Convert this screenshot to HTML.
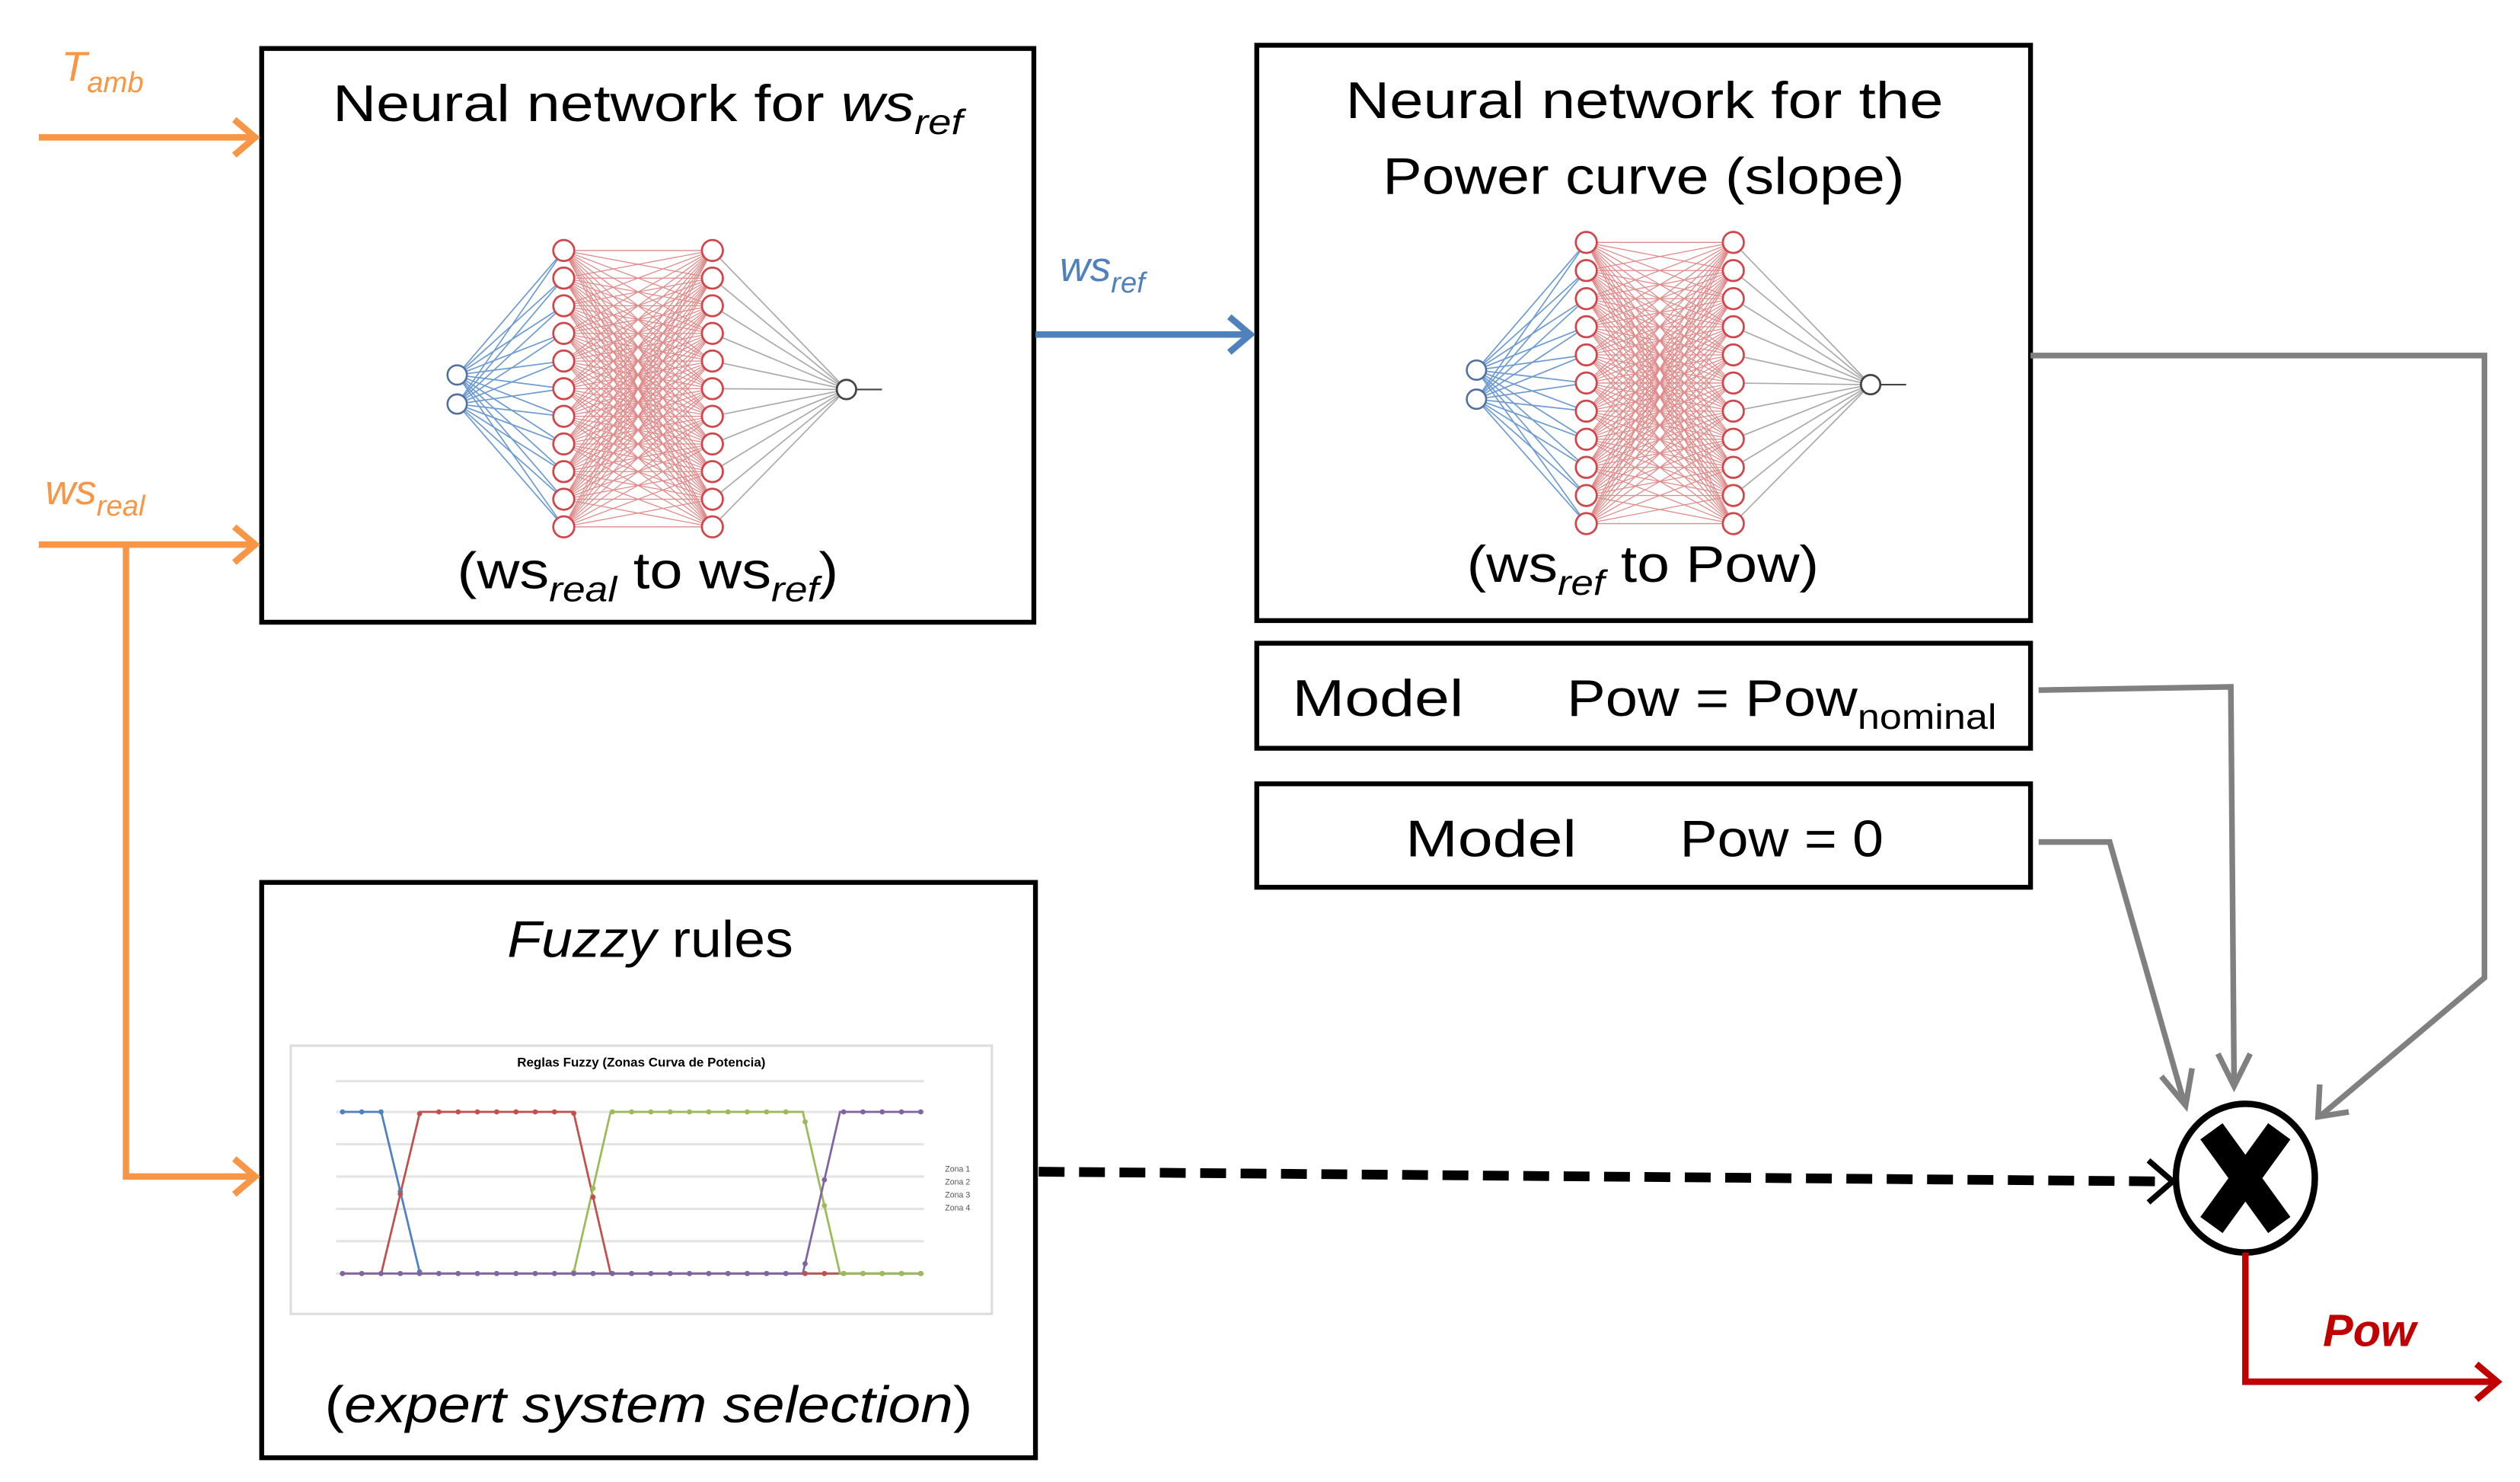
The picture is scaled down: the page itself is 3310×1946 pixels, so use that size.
<!DOCTYPE html>
<html><head><meta charset="utf-8"><style>
html,body{margin:0;padding:0;background:#fff;}
svg{display:block;}
text{font-family:"Liberation Sans",sans-serif;}
</style></head><body>
<svg id="s" width="3310" height="1946" viewBox="0 0 1560 917" preserveAspectRatio="none" xmlns="http://www.w3.org/2000/svg">
<defs>
<marker id="ao" markerWidth="10" markerHeight="10" refX="8" refY="5" orient="auto" markerUnits="userSpaceOnUse"><path d="M1,-3 L9,5 L1,13" fill="none" stroke="#f79646" stroke-width="3"/></marker>
</defs>
<rect width="1560" height="917" fill="#fff"/>
<g id="nn"></g>
<!-- boxes -->
<g fill="none" stroke="#000" stroke-width="3">
<rect x="162" y="30" width="478" height="355"/>
<rect x="778" y="28" width="479" height="356"/>
<rect x="778" y="398" width="479" height="65"/>
<rect x="778" y="485" width="479" height="64"/>
<rect x="162" y="546" width="479" height="356"/>
</g>
<!-- titles -->
<text x="206" y="75" font-size="32" textLength="390" lengthAdjust="spacingAndGlyphs">Neural network for <tspan font-style="italic">ws</tspan><tspan font-style="italic" font-size="22" dy="8">ref</tspan></text>
<text x="283" y="364" font-size="32" textLength="236" lengthAdjust="spacingAndGlyphs">(ws<tspan font-style="italic" font-size="22" dy="8">real</tspan><tspan dy="-8"> to ws</tspan><tspan font-style="italic" font-size="22" dy="8">ref</tspan><tspan dy="-8">)</tspan></text>
<text x="833" y="73" font-size="32" textLength="370" lengthAdjust="spacingAndGlyphs">Neural network for the</text>
<text x="856" y="120" font-size="32" textLength="323" lengthAdjust="spacingAndGlyphs">Power curve (slope)</text>
<text x="908" y="360" font-size="32" textLength="218" lengthAdjust="spacingAndGlyphs">(ws<tspan font-style="italic" font-size="22" dy="8">ref</tspan><tspan dy="-8"> to Pow)</tspan></text>
<text x="800" y="443" font-size="32" textLength="106" lengthAdjust="spacingAndGlyphs">Model</text>
<text x="970" y="443" font-size="32" textLength="266" lengthAdjust="spacingAndGlyphs">Pow = Pow<tspan font-size="22" dy="8">nominal</tspan></text>
<text x="870" y="530" font-size="32" textLength="106" lengthAdjust="spacingAndGlyphs">Model</text>
<text x="1040" y="530" font-size="32" textLength="126" lengthAdjust="spacingAndGlyphs">Pow = 0</text>
<text x="314" y="592" font-size="32" textLength="177" lengthAdjust="spacingAndGlyphs"><tspan font-style="italic">Fuzzy</tspan> rules</text>
<text x="201" y="880" font-size="32" textLength="401" lengthAdjust="spacingAndGlyphs">(<tspan font-style="italic">expert system selection</tspan>)</text>
<!-- chart -->
<g id="chart">
<rect x="180" y="647" width="434" height="166" fill="#fff" stroke="#ddd" stroke-width="1.5"/>
<text x="397" y="660" font-size="8" text-anchor="middle" font-weight="bold">Reglas Fuzzy (Zonas Curva de Potencia)</text>
<g stroke="#e4e4e4" stroke-width="1.5">
<line x1="208" y1="669" x2="572" y2="669"/><line x1="208" y1="688" x2="572" y2="688"/><line x1="208" y1="708" x2="572" y2="708"/><line x1="208" y1="728" x2="572" y2="728"/><line x1="208" y1="748" x2="572" y2="748"/><line x1="208" y1="768" x2="572" y2="768"/><line x1="208" y1="788" x2="572" y2="788"/>
</g>
<g fill="none" stroke-width="1.3">
<polyline points="212,688 236,688 260,788 570,788" stroke="#4f81bd"/>
<polyline points="212,788 236,788 260,688 355,688 378,788 570,788" stroke="#c0504d"/>
<polyline points="212,788 355,788 378,688 497,688 520,788 570,788" stroke="#9bbb59"/>
<polyline points="212,788 497,788 520,688 570,688" stroke="#8064a2"/>
</g>
<g id="dots"></g>
<g font-size="5" fill="#555"><text x="585" y="725">Zona 1</text><text x="585" y="733">Zona 2</text><text x="585" y="741">Zona 3</text><text x="585" y="749">Zona 4</text></g>
</g>
<!-- orange -->
<g stroke="#f79646" stroke-width="4" fill="none">
<line x1="24" y1="85" x2="158" y2="85"/><path d="M145,74 L158,85 L145,96"/>
<line x1="24" y1="337" x2="158" y2="337"/><path d="M145,326 L158,337 L145,348"/>
<polyline points="78,337 78,728 158,728"/><path d="M145,717 L158,728 L145,739"/>
</g>
<text x="38" y="50" font-size="26" font-style="italic" fill="#f79646">T<tspan font-size="18" dy="7">amb</tspan></text>
<text x="28" y="312" font-size="26" font-style="italic" fill="#f79646">ws<tspan font-size="18" dy="7">real</tspan></text>
<!-- blue -->
<g stroke="#4f81bd" stroke-width="4" fill="none">
<line x1="641" y1="207" x2="774" y2="207"/><path d="M761,196 L774,207 L761,218"/>
</g>
<text x="656" y="174" font-size="26" font-style="italic" fill="#4f81bd">ws<tspan font-size="18" dy="7">ref</tspan></text>
<!-- gray -->
<g stroke="#808080" stroke-width="3.5" fill="none">
<polyline points="1257,220 1538,220 1538,605 1437,690"/><path d="M1436,671 L1435,691 L1454,688"/>
<polyline points="1262,427 1381,425 1383,670"/><path d="M1373,652 L1383,672 L1393,652"/>
<polyline points="1262,521 1306,521 1352,682"/><path d="M1338,666 L1353,684 L1357,661"/>
</g>
<!-- dashed -->
<line x1="643" y1="725" x2="1338" y2="731" stroke="#000" stroke-width="6" stroke-dasharray="16,9"/>
<path d="M1330,718 L1345,731 L1330,744" fill="none" stroke="#000" stroke-width="3.5"/>
<!-- multiplier -->
<ellipse cx="1390" cy="729" rx="43" ry="46" fill="#fff" stroke="#000" stroke-width="4"/>
<g stroke="#000" stroke-width="17" stroke-linecap="butt"><line x1="1369" y1="700" x2="1411" y2="758"/><line x1="1411" y1="700" x2="1369" y2="758"/></g>
<!-- red -->
<g stroke="#c00000" stroke-width="4" fill="none">
<polyline points="1390,775 1390,855 1546,855"/><path d="M1533,844 L1546,855 L1533,866"/>
</g>
<text x="1438" y="833" font-size="28" font-style="italic" font-weight="bold" fill="#c00000">Pow</text>
</svg>
<script>
(function(){
var ns="http://www.w3.org/2000/svg",g=document.getElementById("nn");
function el(t,a){var e=document.createElementNS(ns,t);for(var k in a)e.setAttribute(k,a[k]);g.appendChild(e);return e;}
function net(ix,iy,h1,h2,y0,y1,ox,oy){
 var n=11,hs=[];for(var i=0;i<n;i++)hs.push(y0+(y1-y0)*i/(n-1));
 hs.forEach(function(y){[iy,iy+18].forEach(function(yy){el("line",{x1:ix,y1:yy,x2:h1,y2:y,stroke:"#6d9bd1","stroke-width":0.8});});});
 hs.forEach(function(a){hs.forEach(function(b){el("line",{x1:h1,y1:a,x2:h2,y2:b,stroke:"#e08a8a","stroke-width":0.6});});});
 hs.forEach(function(y){el("line",{x1:h2,y1:y,x2:ox,y2:oy,stroke:"#aaa","stroke-width":0.8});});
 [iy,iy+18].forEach(function(y){el("circle",{cx:ix,cy:y,r:6,fill:"#fff",stroke:"#4f6fa0","stroke-width":1.2});});
 hs.forEach(function(y){el("circle",{cx:h1,cy:y,r:6.5,fill:"#fff",stroke:"#d0464a","stroke-width":1.3});el("circle",{cx:h2,cy:y,r:6.5,fill:"#fff",stroke:"#d0464a","stroke-width":1.3});});
 el("circle",{cx:ox,cy:oy,r:6,fill:"#fff",stroke:"#444","stroke-width":1.3});
 el("line",{x1:ox+6,y1:oy,x2:ox+22,y2:oy,stroke:"#444","stroke-width":1});
}
net(283,232,349,441,155,326,524,241);
net(914,229,982,1073,150,324,1158,238);
var d=document.getElementById("dots");
function dot(x,y,c){var e=document.createElementNS(ns,"circle");e.setAttribute("cx",x);e.setAttribute("cy",y);e.setAttribute("r",1.6);e.setAttribute("fill",c);d.appendChild(e);}
var lines=[["#4f81bd",[[212,1],[236,1],[260,0],[570,0]]],["#c0504d",[[212,0],[236,0],[260,1],[355,1],[378,0],[570,0]]],["#9bbb59",[[212,0],[355,0],[378,1],[497,1],[520,0],[570,0]]],["#8064a2",[[212,0],[497,0],[520,1],[570,1]]]];
lines.forEach(function(L){for(var i=0;i<=30;i++){var x=212+i*(358/30),p=L[1],v=0;for(var j=0;j<p.length-1;j++){if(x>=p[j][0]-0.01&&x<=p[j+1][0]+0.01){var t=(x-p[j][0])/(p[j+1][0]-p[j][0]);v=p[j][1]+(p[j+1][1]-p[j][1])*t;break;}}dot(x,788-100*v,L[0]);}});
})();
</script>
</body></html>
